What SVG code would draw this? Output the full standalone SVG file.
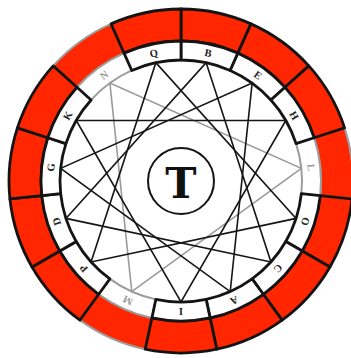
<svg xmlns="http://www.w3.org/2000/svg" width="351" height="358" viewBox="0 0 351 358">
<style>
.red{fill:#ff2600}
.box{fill:#fff}
.blk path{stroke:#141414;stroke-width:2.8;stroke-linejoin:round}
.gry path{stroke:#9c9c9c;stroke-width:2;stroke-linejoin:round}
.lt{font-family:"Liberation Serif","Times New Roman",serif;font-size:10.5px;font-weight:bold;text-anchor:middle}
.blk text{fill:#222}
.gry text{fill:#999}
.star{fill:none;stroke:#161616;stroke-width:1.6}
.star.g{stroke:#9a9a9a}
</style>
<rect width="351" height="358" fill="#fff"/>
<g id="connectors">
<polygon class="star g" points="301.34,168.35 131.78,291.54 109.88,83.11"/>
<polygon class="star" points="155.84,62.64 296.08,218.39 91.08,261.96"/>
<polygon class="star" points="206.16,62.64 270.92,261.96 65.92,218.39"/>
<polygon class="star" points="252.12,83.11 230.22,291.54 60.66,168.35"/>
<polygon class="star" points="285.79,120.5 181,302 76.21,120.5"/>
</g>
<g id="seg-L" class="gry">
<path class="red" d="M344.58,127.85 A172,172 0 0 1 352.06,198.98 L320.23,195.63 A140,140 0 0 0 314.15,137.74 Z"/>
<path class="box" d="M314.15,137.74 A140,140 0 0 1 320.23,195.63 L301.34,193.65 A121,121 0 0 0 296.08,143.61 Z"/>
<text class="lt" x="181" y="53.8" transform="rotate(84 181 181)">L</text>
</g>
<g id="seg-M" class="gry">
<path class="red" d="M145.24,349.24 A172,172 0 0 1 79.9,320.15 L98.71,294.26 A140,140 0 0 0 151.89,317.94 Z"/>
<path class="box" d="M151.89,317.94 A140,140 0 0 1 98.71,294.26 L109.88,278.89 A121,121 0 0 0 155.84,299.36 Z"/>
<text class="lt" x="181" y="53.8" transform="rotate(204 181 181)">M</text>
</g>
<g id="seg-N" class="gry">
<path class="red" d="M53.18,65.91 A172,172 0 0 1 111.04,23.87 L124.06,53.1 A140,140 0 0 0 76.96,87.32 Z"/>
<path class="box" d="M76.96,87.32 A140,140 0 0 1 124.06,53.1 L131.78,70.46 A121,121 0 0 0 91.08,100.04 Z"/>
<text class="lt" x="181" y="53.8" transform="rotate(324 181 181)">N</text>
</g>
<g id="seg-B" class="blk">
<path class="red" d="M181,9 A172,172 0 0 1 250.96,23.87 L237.94,53.1 A140,140 0 0 0 181,41 Z"/>
<path class="box" d="M181,41 A140,140 0 0 1 237.94,53.1 L230.22,70.46 A121,121 0 0 0 181,60 Z"/>
<text class="lt" x="181" y="53.8" transform="rotate(12 181 181)">B</text>
</g>
<g id="seg-E" class="blk">
<path class="red" d="M250.96,23.87 A172,172 0 0 1 308.82,65.91 L285.04,87.32 A140,140 0 0 0 237.94,53.1 Z"/>
<path class="box" d="M237.94,53.1 A140,140 0 0 1 285.04,87.32 L270.92,100.04 A121,121 0 0 0 230.22,70.46 Z"/>
<text class="lt" x="181" y="53.8" transform="rotate(36 181 181)">E</text>
</g>
<g id="seg-H" class="blk">
<path class="red" d="M308.82,65.91 A172,172 0 0 1 344.58,127.85 L314.15,137.74 A140,140 0 0 0 285.04,87.32 Z"/>
<path class="box" d="M285.04,87.32 A140,140 0 0 1 314.15,137.74 L296.08,143.61 A121,121 0 0 0 270.92,100.04 Z"/>
<text class="lt" x="181" y="53.8" transform="rotate(60 181 181)">H</text>
</g>
<g id="seg-O" class="blk">
<path class="red" d="M352.06,198.98 A172,172 0 0 1 329.96,267 L302.24,251 A140,140 0 0 0 320.23,195.63 Z"/>
<path class="box" d="M320.23,195.63 A140,140 0 0 1 302.24,251 L285.79,241.5 A121,121 0 0 0 301.34,193.65 Z"/>
<text class="lt" x="181" y="53.8" transform="rotate(108 181 181)">O</text>
</g>
<g id="seg-C" class="blk">
<path class="red" d="M329.96,267 A172,172 0 0 1 282.1,320.15 L263.29,294.26 A140,140 0 0 0 302.24,251 Z"/>
<path class="box" d="M302.24,251 A140,140 0 0 1 263.29,294.26 L252.12,278.89 A121,121 0 0 0 285.79,241.5 Z"/>
<text class="lt" x="181" y="53.8" transform="rotate(132 181 181)">C</text>
</g>
<g id="seg-A" class="blk">
<path class="red" d="M282.1,320.15 A172,172 0 0 1 216.76,349.24 L210.11,317.94 A140,140 0 0 0 263.29,294.26 Z"/>
<path class="box" d="M263.29,294.26 A140,140 0 0 1 210.11,317.94 L206.16,299.36 A121,121 0 0 0 252.12,278.89 Z"/>
<text class="lt" x="181" y="53.8" transform="rotate(156 181 181)">A</text>
</g>
<g id="seg-I" class="blk">
<path class="red" d="M216.76,349.24 A172,172 0 0 1 145.24,349.24 L151.89,317.94 A140,140 0 0 0 210.11,317.94 Z"/>
<path class="box" d="M210.11,317.94 A140,140 0 0 1 151.89,317.94 L155.84,299.36 A121,121 0 0 0 206.16,299.36 Z"/>
<text class="lt" x="181" y="53.8" transform="rotate(180 181 181)">I</text>
</g>
<g id="seg-P" class="blk">
<path class="red" d="M79.9,320.15 A172,172 0 0 1 32.04,267 L59.76,251 A140,140 0 0 0 98.71,294.26 Z"/>
<path class="box" d="M98.71,294.26 A140,140 0 0 1 59.76,251 L76.21,241.5 A121,121 0 0 0 109.88,278.89 Z"/>
<text class="lt" x="181" y="53.8" transform="rotate(228 181 181)">P</text>
</g>
<g id="seg-D" class="blk">
<path class="red" d="M32.04,267 A172,172 0 0 1 9.94,198.98 L41.77,195.63 A140,140 0 0 0 59.76,251 Z"/>
<path class="box" d="M59.76,251 A140,140 0 0 1 41.77,195.63 L60.66,193.65 A121,121 0 0 0 76.21,241.5 Z"/>
<text class="lt" x="181" y="53.8" transform="rotate(252 181 181)">D</text>
</g>
<g id="seg-G" class="blk">
<path class="red" d="M9.94,198.98 A172,172 0 0 1 17.42,127.85 L47.85,137.74 A140,140 0 0 0 41.77,195.63 Z"/>
<path class="box" d="M41.77,195.63 A140,140 0 0 1 47.85,137.74 L65.92,143.61 A121,121 0 0 0 60.66,193.65 Z"/>
<text class="lt" x="181" y="53.8" transform="rotate(276 181 181)">G</text>
</g>
<g id="seg-K" class="blk">
<path class="red" d="M17.42,127.85 A172,172 0 0 1 53.18,65.91 L76.96,87.32 A140,140 0 0 0 47.85,137.74 Z"/>
<path class="box" d="M47.85,137.74 A140,140 0 0 1 76.96,87.32 L91.08,100.04 A121,121 0 0 0 65.92,143.61 Z"/>
<text class="lt" x="181" y="53.8" transform="rotate(300 181 181)">K</text>
</g>
<g id="seg-Q" class="blk">
<path class="red" d="M111.04,23.87 A172,172 0 0 1 181,9 L181,41 A140,140 0 0 0 124.06,53.1 Z"/>
<path class="box" d="M124.06,53.1 A140,140 0 0 1 181,41 L181,60 A121,121 0 0 0 131.78,70.46 Z"/>
<text class="lt" x="181" y="53.8" transform="rotate(348 181 181)">Q</text>
</g>
<g id="center-T">
<circle cx="181" cy="181" r="33" fill="#fff" stroke="#141414" stroke-width="2"/>
<text x="181" y="198" font-family="'DejaVu Serif','Liberation Serif',serif" font-size="42" font-weight="bold" text-anchor="middle" fill="#111">T</text>
</g>
</svg>
